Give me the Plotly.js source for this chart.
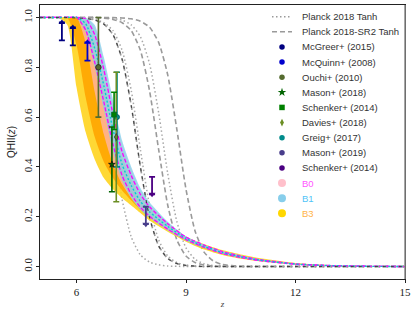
<!DOCTYPE html>
<html><head><meta charset="utf-8">
<script src="https://cdn.plot.ly/plotly-3.0.1.min.js"></script>
<style>html,body{margin:0;padding:0;background:#fff}#chart{width:416px;height:318px}</style>
</head><body><div id="chart"></div>
<script>
// ---- Planck tanh curves ----
const zTanh = [5, 5.5, 6, 6.25, 6.5, 6.75, 7, 7.25, 7.5, 7.75, 8, 8.25, 8.5, 8.75, 9, 9.25, 9.5, 9.75, 10, 10.5, 11, 12, 13, 15];
const tanhA = [1, 0.998, 0.982, 0.953, 0.881, 0.731, 0.5, 0.269, 0.119, 0.047, 0.018, 0.007, 0.002, 0.001, 0, 0, 0, 0, 0, 0, 0, 0, 0, 0];
const tanhB = [1, 1, 1, 0.997, 0.992, 0.979, 0.947, 0.868, 0.707, 0.47, 0.246, 0.107, 0.042, 0.016, 0.006, 0.002, 0, 0, 0, 0, 0, 0, 0, 0];
const tanhC = [1, 1, 1, 1, 1, 0.998, 0.996, 0.989, 0.970, 0.923, 0.815, 0.618, 0.373, 0.18, 0.075, 0.029, 0.011, 0.004, 0.0015, 0, 0, 0, 0, 0];
const sr2A = [1, 1, 0.998, 0.996, 0.990, 0.973, 0.931, 0.832, 0.646, 0.401, 0.198, 0.083, 0.032, 0.012, 0.0045, 0.0017, 0, 0, 0, 0, 0, 0, 0, 0];
const sr2B = [1, 1, 1, 1, 1, 0.997, 0.992, 0.979, 0.947, 0.868, 0.707, 0.47, 0.246, 0.107, 0.042, 0.016, 0.006, 0.002, 0, 0, 0, 0, 0, 0];
const sr2C = [1, 1, 1, 1, 1, 1, 0.9993, 0.998, 0.9945, 0.985, 0.961, 0.90, 0.769, 0.55, 0.31, 0.142, 0.057, 0.022, 0.008, 0.001, 0, 0, 0, 0];

// ---- model bands ----
const zBand = [5, 5.5, 5.75, 6, 6.25, 6.5, 6.75, 7, 7.25, 7.5, 7.75, 8, 8.5, 9, 9.5, 10, 10.5, 11, 12, 13, 14, 15];
const b3OuterLo = [1, 1, 0.97, 0.72, 0.54, 0.43, 0.355, 0.31, 0.275, 0.245, 0.215, 0.185, 0.14, 0.1, 0.068, 0.046, 0.031, 0.021, 0.008, 0.003, 0.001, 0];
const b3OuterHi = [1, 1, 1, 1, 0.99, 0.9, 0.76, 0.58, 0.44, 0.35, 0.28, 0.235, 0.172, 0.12, 0.09, 0.066, 0.048, 0.034, 0.014, 0.005, 0.001, 0];
const b3InnerLo = [1, 1, 1, 0.89, 0.68, 0.52, 0.42, 0.355, 0.305, 0.265, 0.228, 0.196, 0.148, 0.106, 0.073, 0.05, 0.034, 0.023, 0.009, 0.003, 0.001, 0];
const b3InnerHi = [1, 1, 1, 1, 0.97, 0.85, 0.7, 0.52, 0.39, 0.315, 0.255, 0.215, 0.158, 0.112, 0.08, 0.055, 0.038, 0.026, 0.01, 0.004, 0.001, 0];
const b0Lo = [1, 1, 1, 1, 0.9, 0.7, 0.53, 0.41, 0.33, 0.275, 0.232, 0.2, 0.15, 0.108, 0.077, 0.052, 0.036, 0.024, 0.009, 0.003, 0.001, 0];
const b0Hi = [1, 1, 1, 1, 1, 0.96, 0.82, 0.65, 0.49, 0.39, 0.305, 0.25, 0.176, 0.12, 0.087, 0.061, 0.043, 0.029, 0.011, 0.004, 0.001, 0];
const b1Lo = [1, 1, 1, 1, 0.94, 0.8, 0.63, 0.46, 0.345, 0.275, 0.228, 0.195, 0.145, 0.104, 0.074, 0.05, 0.034, 0.023, 0.009, 0.003, 0.001, 0];
const b1Hi = [1, 1, 1, 1, 1, 0.97, 0.84, 0.67, 0.506, 0.40, 0.315, 0.258, 0.18, 0.122, 0.088, 0.062, 0.044, 0.03, 0.011, 0.004, 0.001, 0];
const b0InnerLo = [1, 1, 1, 1, 0.95, 0.82, 0.66, 0.49, 0.365, 0.29, 0.238, 0.202, 0.15, 0.108, 0.077, 0.052, 0.036, 0.024, 0.009, 0.003, 0.001, 0];
const b0InnerHi = [1, 1, 1, 1, 0.995, 0.93, 0.79, 0.61, 0.46, 0.365, 0.29, 0.24, 0.172, 0.118, 0.086, 0.06, 0.042, 0.028, 0.011, 0.004, 0.001, 0];
const b0Med = [1, 1, 1, 1, 0.975, 0.875, 0.725, 0.55, 0.41, 0.325, 0.262, 0.22, 0.161, 0.113, 0.081, 0.056, 0.039, 0.026, 0.01, 0.0035, 0.001, 0];

// ---- observations ----
const mcgreerZ = [5.6, 5.9], mcgreerLim = [0.908, 0.888], mcgreerTip = [0.98, 0.96];
const mcquinnZ = [6.3], mcquinnLim = [0.827], mcquinnTip = [0.90];
const ouchiZ = [6.6], ouchiQ = [0.8], ouchiUp = [0.2], ouchiDn = [0.2];
const mason18Z = [6.97], mason18Q = [0.41], mason18Up = [0.15], mason18Dn = [0.11];
const schenkerZ = [7.03], schenkerQ = [0.61], schenkerUp = [0.09], schenkerDn = [0.06];
const daviesZ = [7.09], daviesQ = [0.52], daviesUp = [0.26], daviesDn = [0.26];
const greigZ = [7.11], greigQ = [0.60], greigUp = [0.18], greigDn = [0.20];
const mason19Z = [7.9], mason19Lim = [0.24], mason19Tip = [0.17];
const schenker8Z = [8.07], schenker8Lim = [0.36], schenker8Tip = [0.29];

// ---- legend ----
const legendLabels = ['Planck 2018 Tanh', 'Planck 2018-SR2 Tanh', 'McGreer+ (2015)', 'McQuinn+ (2008)', 'Ouchi+ (2010)', 'Mason+ (2018)', 'Schenker+ (2014)', 'Davies+ (2018)', 'Greig+ (2017)', 'Mason+ (2019)', 'Schenker+ (2014)', 'B0', 'B1', 'B3'];
const legendSymbols = ['line', 'line', 'circle', 'circle', 'circle', 'star', 'square', 'diamond-tall', 'circle', 'circle', 'circle', 'circle', 'circle', 'circle'];
const legendColors = ['#9a9a9a', '#9a9a9a', '#000080', '#0000CD', '#556B2F', '#006400', '#008000', '#6B8E23', '#008B8B', '#483D8B', '#4B0082', '#FFC0CB', '#87CEEB', '#FFD700'];
const legendTextColors = ['#333', '#333', '#333', '#333', '#333', '#333', '#333', '#333', '#333', '#333', '#333', '#FF55FF', '#4FC3F7', '#FFB347'];

const W = 416, H = 318, mL = 40, mR = 11, mT = 5, mB = 39;
const pw = W - mL - mR, ph = H - mT - mB;
const px2x = p => (p - mL) / pw;
const py2y = p => (H - mB - p) / ph;

const traces = [];
const grayLine = (y, dash, color, width) => ({x: zTanh, y: y, mode: 'lines', line: {color: color, width: width, dash: dash, shape: 'spline', smoothing: 0.6}, showlegend: false, hoverinfo: 'skip'});
traces.push(grayLine(tanhA, '1.5px,2.5px', '#a8a8a8', 1.5));
traces.push(grayLine(tanhB, '1.5px,2.5px', '#a8a8a8', 1.5));
traces.push(grayLine(tanhC, '1.5px,2.5px', '#a8a8a8', 1.5));
traces.push(grayLine(sr2A, '5px,3px', '#9a9a9a', 1.6));
traces.push(grayLine(sr2B, '5px,3px', '#9a9a9a', 1.6));
traces.push(grayLine(sr2C, '5px,3px', '#9a9a9a', 1.6));

function band(lo, hi, fill) {
  traces.push({x: zBand, y: lo, mode: 'lines', line: {width: 0, shape: 'spline', smoothing: 0.6}, showlegend: false, hoverinfo: 'skip'});
  traces.push({x: zBand, y: hi, mode: 'lines', line: {width: 0, shape: 'spline', smoothing: 0.6}, fill: 'tonexty', fillcolor: fill, showlegend: false, hoverinfo: 'skip'});
}
band(b3OuterLo, b3OuterHi, 'rgba(255,212,30,0.9)');
band(b3InnerLo, b3InnerHi, 'rgba(255,165,0,0.9)');
band(b0Lo, b0Hi, 'rgba(255,182,193,0.68)');
band(b1Lo, b1Hi, 'rgba(135,206,235,0.78)');

const modelLine = (y, color, dash, width) => ({x: zBand, y: y, mode: 'lines', line: {color: color, width: width, dash: dash, shape: 'spline', smoothing: 0.6}, showlegend: false, hoverinfo: 'skip'});
traces.push(modelLine(b0InnerLo, '#FF00FF', '4px,2px', 1.3));
traces.push(modelLine(b0InnerHi, '#FF00FF', '4px,2px', 1.3));
traces.push(modelLine(b0Med, '#00CED1', '2px,2px', 1.4));
traces.push(grayLine(sr2A, '3px,5px', '#444', 1.1));

// observations with two-sided error bars
function pointTrace(z, q, up, dn, color, symbol, size, lineColor) {
  return {x: z, y: q, mode: 'markers', cliponaxis: false,
    marker: {symbol: symbol, size: size, color: color, line: {color: lineColor, width: 0.8}},
    error_y: {type: 'data', symmetric: false, array: up, arrayminus: dn, color: color, thickness: 1.6, width: 3},
    showlegend: false, hoverinfo: 'skip'};
}
function limitTrace(z, lim, tip, color) {
  const up = tip.map((t, i) => Math.max(t - lim[i], 0));
  const dn = tip.map((t, i) => Math.max(lim[i] - t, 0));
  traces.push({x: z, y: lim, mode: 'markers', marker: {size: 1, color: color},
    error_y: {type: 'data', symmetric: false, array: up, arrayminus: dn, color: color, thickness: 1.8, width: 3},
    showlegend: false, hoverinfo: 'skip'});
  traces.push({x: z, y: tip, mode: 'markers', cliponaxis: false,
    marker: {symbol: tip[0] > lim[0] ? 'triangle-up' : 'triangle-down', size: 6, color: color},
    showlegend: false, hoverinfo: 'skip'});
}
limitTrace(mcgreerZ, mcgreerLim, mcgreerTip, '#000080');
limitTrace(mcquinnZ, mcquinnLim, mcquinnTip, '#0000CD');
traces.push(pointTrace(ouchiZ, ouchiQ, ouchiUp, ouchiDn, '#556B2F', 'circle', 5.5, '#222'));
traces.push(pointTrace(greigZ, greigQ, greigUp, greigDn, '#008B8B', 'circle', 5, '#055'));
traces.push(pointTrace(daviesZ, daviesQ, daviesUp, daviesDn, '#6B8E23', 'diamond-tall', 5, '#333'));
traces.push(pointTrace(mason18Z, mason18Q, mason18Up, mason18Dn, '#006400', 'star', 5, '#111'));
traces.push(pointTrace(schenkerZ, schenkerQ, schenkerUp, schenkerDn, '#008000', 'square', 5, '#063'));
limitTrace(mason19Z, mason19Lim, mason19Tip, '#483D8B');
limitTrace(schenker8Z, schenker8Lim, schenker8Tip, '#4B0082');

// manual legend on an overlay axis
const rowPx = legendLabels.map((_, i) => 16.7 + 15.12 * i);
const annotations = [];
legendLabels.forEach((lab, i) => {
  const yy = py2y(rowPx[i]);
  if (legendSymbols[i] === 'line') {
    traces.push({x: [px2x(272), px2x(292)], y: [yy, yy], xaxis: 'x2', yaxis: 'y2', mode: 'lines',
      line: {color: legendColors[i], width: 1.5, dash: i === 0 ? '1.5px,2.5px' : '5px,3px'}, showlegend: false, hoverinfo: 'skip'});
  } else {
    const big = i >= 11;
    traces.push({x: [px2x(282)], y: [yy], xaxis: 'x2', yaxis: 'y2', mode: 'markers', cliponaxis: false,
      marker: {symbol: legendSymbols[i], size: big ? 8 : (legendSymbols[i] === 'star' ? 6.5 : 5.5), color: legendColors[i]},
      showlegend: false, hoverinfo: 'skip'});
  }
  annotations.push({xref: 'paper', yref: 'paper', x: px2x(300), y: yy, xanchor: 'left', yanchor: 'middle',
    text: lab, showarrow: false, font: {family: 'Liberation Sans, Arial, sans-serif', size: 9.5, color: legendTextColors[i]}});
});

const tickFont = {family: 'Liberation Serif, Times New Roman, serif', size: 11, color: '#222'};
const layout = {
  width: W, height: H,
  margin: {l: mL, r: mR, t: mT, b: mB},
  paper_bgcolor: '#fff', plot_bgcolor: '#fff',
  showlegend: false,
  xaxis: {range: [5, 15], tickvals: [6, 9, 12, 15], ticks: 'outside', ticklen: 3, tickcolor: '#222',
    showline: true, mirror: true, linecolor: '#222', linewidth: 1, showgrid: false, zeroline: false,
    tickfont: tickFont,
    title: {text: '<i>z</i>', font: {family: 'Liberation Serif, serif', size: 9, color: '#444'}, standoff: 3}},
  yaxis: {range: [-0.05, 1.05], tickvals: [0, 0.2, 0.4, 0.6, 0.8, 1.0], ticktext: ['0.0', '0.2', '0.4', '0.6', '0.8', '1.0'],
    ticks: 'outside', ticklen: 3, tickcolor: '#222', tickangle: -90,
    showline: true, mirror: true, linecolor: '#222', linewidth: 1, showgrid: false, zeroline: false,
    tickfont: tickFont,
    title: {text: 'QHII(<i>z</i>)', font: {family: 'Liberation Sans, Arial, sans-serif', size: 10, color: '#222'}, standoff: 4}},
  xaxis2: {overlaying: 'x', range: [0, 1], visible: false, side: 'top'},
  yaxis2: {overlaying: 'y', range: [0, 1], visible: false, side: 'right'},
  annotations: annotations,
  shapes: [{type: 'line', xref: 'paper', yref: 'paper', x0: 1, x1: 1, y0: 0, y1: 1, line: {color: '#8a8a8a', width: 1.5}}]
};
Plotly.newPlot('chart', traces, layout, {displayModeBar: false, staticPlot: true});
</script></body></html>
